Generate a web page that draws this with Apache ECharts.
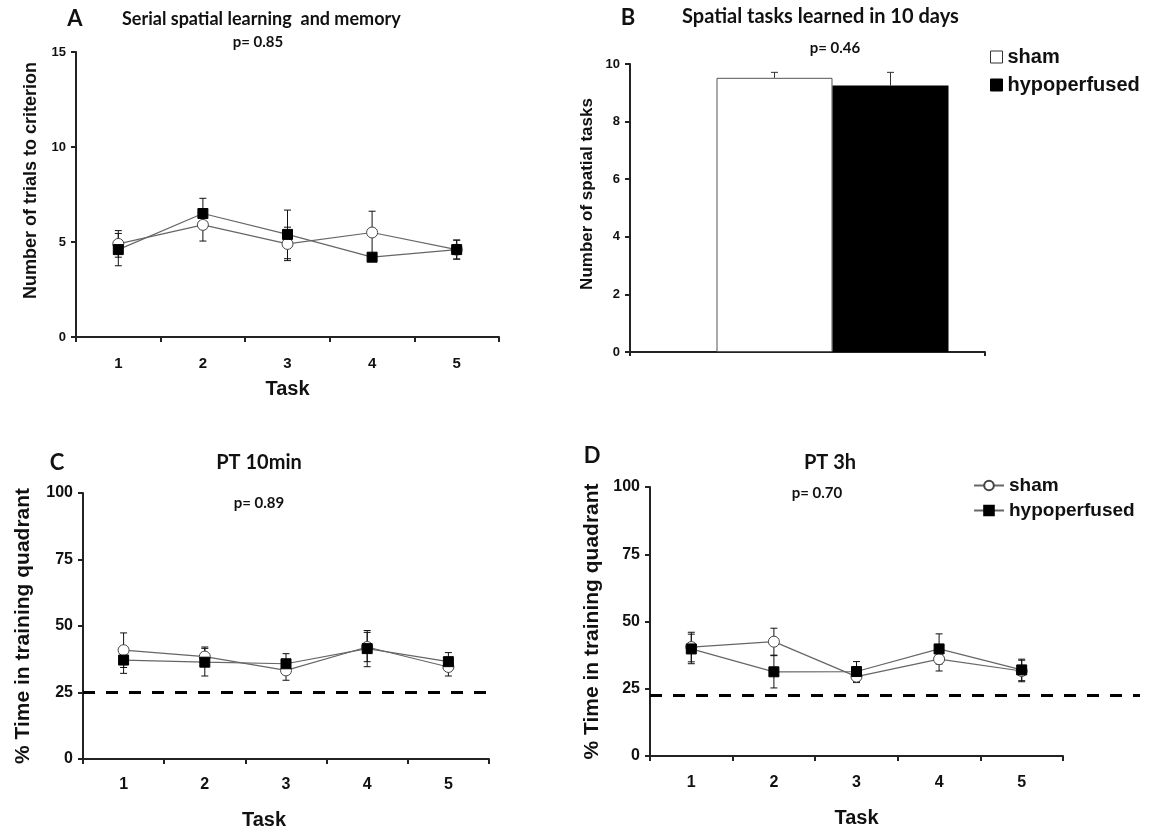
<!DOCTYPE html>
<html><head><meta charset="utf-8">
<script src="https://cdn.jsdelivr.net/npm/echarts@6/dist/echarts.min.js"></script>
<style>html,body{margin:0;padding:0;background:#fff}#c{width:1152px;height:831px}</style>
</head><body><div id="c"></div>
<script>
// ---- data ----
const tasks = ['1', '2', '3', '4', '5'];
const groups = ['sham', 'hypoperfused'];
// Panel A: number of trials to criterion
const trialsSham = [4.9, 5.9, 4.9, 5.5, 4.6];
const trialsShamErr = [0.7, 0.85, 0.88, 1.12, 0.5];
const trialsHypo = [4.6, 6.5, 5.4, 4.2, 4.6];
const trialsHypoErr = [0.85, 0.8, 1.28, 0.15, 0.5];
// Panel B: spatial tasks learned in 10 days
const learned = [9.52, 9.25];
const learnedErr = [0.19, 0.46];
// Panel C: PT 10min
const pt10Sham = [40.9, 38.5, 33.3, 42.1, 34.6];
const pt10ShamErr = [6.5, 3.6, 3.7, 5.5, 3.4];
const pt10Hypo = [37.2, 36.4, 35.8, 41.5, 36.6];
const pt10HypoErr = [5.0, 5.2, 3.8, 6.8, 3.4];
// Panel D: PT 3h
const pt3Sham = [40.5, 42.5, 29.5, 36.0, 31.6];
const pt3ShamErr = [5.5, 5.0, 2.2, 4.4, 4.0];
const pt3Hypo = [39.8, 31.3, 31.4, 39.8, 32.0];
const pt3HypoErr = [5.5, 6.0, 3.7, 5.6, 4.0];
const chanceC = 25;
const chanceD = 22.5;
const pValues = ['p= 0.85', 'p= 0.46', 'p= 0.89', 'p= 0.70'];

// ---- styles ----
const INK = '#111';
const AXIS_FONT = 'Liberation Sans, Arial, sans-serif';
const TITLE_FONT = 'Lato, Carlito, sans-serif';
const BW = 116, SPACER = 50;
const TOTAL = BW * 2 + SPACER;

const chart = echarts.init(document.getElementById('c'));

function errSeries(vals, errs, gi, z) {
  return {
    type: 'custom', xAxisIndex: gi, yAxisIndex: gi, z: z || 1, silent: true,
    encode: { x: 0, y: 1 },
    data: vals.map((v, i) => [i, v, errs[i]]),
    renderItem(params, api) {
      const x = api.value(0), y = api.value(1), e = api.value(2);
      const hi = api.coord([x, y + e]), lo = api.coord([x, y - e]);
      const w = 3.5, st = { stroke: INK, lineWidth: 1 };
      return { type: 'group', children: [
        { type: 'line', shape: { x1: hi[0], y1: hi[1], x2: lo[0], y2: lo[1] }, style: st },
        { type: 'line', shape: { x1: hi[0] - w, y1: hi[1], x2: hi[0] + w, y2: hi[1] }, style: st },
        { type: 'line', shape: { x1: lo[0] - w, y1: lo[1], x2: lo[0] + w, y2: lo[1] }, style: st }
      ]};
    }
  };
}
function lineSeries(name, vals, gi, extra) {
  const sham = name === 'sham';
  return Object.assign({
    name, type: 'line', xAxisIndex: gi, yAxisIndex: gi, z: sham ? 3 : 4,
    data: vals, symbol: sham ? 'circle' : 'rect', symbolSize: sham ? 11 : 10,
    lineStyle: { color: '#666', width: 1.2 },
    itemStyle: sham ? { color: '#fff', borderColor: '#444', borderWidth: 1 } : { color: '#000', borderColor: '#000', borderWidth: 1 },
    emphasis: { disabled: true }
  }, extra || {});
}
function dashLine(v) {
  return { silent: true, symbol: 'none', label: { show: false },
    lineStyle: { color: '#000', width: 3, type: [12, 11] }, data: [{ yAxis: v }] };
}
function catAxis(gi, margin, gap, pad) {
  return { type: 'category', gridIndex: gi, data: tasks, boundaryGap: true,
    name: 'Task', nameLocation: 'middle', nameGap: gap,
    nameTextStyle: { color: INK, fontFamily: AXIS_FONT, fontWeight: 'bold', fontSize: 20, padding: pad || 0 },
    axisLine: { lineStyle: { color: '#222', width: 2 } },
    axisTick: { show: true, length: 5, lineStyle: { color: '#222', width: 2 } },
    axisLabel: { color: INK, fontFamily: AXIS_FONT, fontWeight: 'bold', fontSize: gi === 0 ? 15 : 16, margin },
    splitLine: { show: false } };
}
function valAxis(gi, max, interval, name, gap, nameSize, labelSize, pad) {
  return { type: 'value', gridIndex: gi, min: 0, max, interval,
    name, nameLocation: 'middle', nameGap: gap, nameRotate: 90,
    nameTextStyle: { color: INK, fontFamily: AXIS_FONT, fontWeight: 'bold', fontSize: nameSize, padding: pad || 0 },
    axisLine: { show: true, lineStyle: { color: '#222', width: 2 } },
    axisTick: { show: true, length: 5, lineStyle: { color: '#222', width: 2 } },
    axisLabel: { color: INK, fontFamily: AXIS_FONT, fontWeight: 'bold', fontSize: labelSize, margin: 10 },
    splitLine: { show: false } };
}
function txt(text, x, y, size, align, font) {
  return { type: 'text', x, y, silent: true,
    style: { text, fill: INK, font: 'bold ' + size + 'px ' + (font || TITLE_FONT), textAlign: align || 'center', textVerticalAlign: 'middle' } };
}

const option = {
  animation: false,
  backgroundColor: '#fff',
  grid: [
    { left: 76, top: 52, width: 423, height: 285 },
    { left: 630, top: 64, width: 355, height: 288 },
    { left: 83, top: 493, width: 406, height: 267 },
    { left: 650, top: 487, width: 413, height: 269 },
    { left: 650, top: 487, width: 490, height: 269 }
  ],
  xAxis: [
    catAxis(0, 19, 42),
    { type: 'category', gridIndex: 1, data: [''], boundaryGap: true,
      axisLine: { lineStyle: { color: '#222', width: 2 } },
      axisTick: { show: true, length: 4, lineStyle: { color: '#222', width: 2 } },
      axisLabel: { show: false } },
    catAxis(2, 18, 51, [0, 44, 0, 0]),
    catAxis(3, 19, 52),
    { type: 'value', gridIndex: 4, min: 0, max: 1, show: false }
  ],
  yAxis: [
    valAxis(0, 15, 5, 'Number of trials to criterion', 36, 18, 13, [0, 0, 0, 28]),
    valAxis(1, 10, 2, 'Number of spatial tasks', 34, 17, 13, [0, 0, 0, 28]),
    valAxis(2, 100, 25, '% Time in training quadrant', 49, 21, 16),
    valAxis(3, 100, 25, '% Time in training quadrant', 47, 21, 16),
    { type: 'value', gridIndex: 4, min: 0, max: 100, show: false }
  ],
  legend: [
    { left: 985, top: 42, orient: 'vertical', itemGap: 8, itemWidth: 12, itemHeight: 12,
      selectedMode: false,
      textStyle: { color: INK, fontFamily: AXIS_FONT, fontWeight: 'bold', fontSize: 20 },
      data: [
        { name: 'sham', icon: 'rect', itemStyle: { color: '#fff', borderColor: '#333', borderWidth: 1 } },
        { name: 'hypoperfused', icon: 'rect', itemStyle: { color: '#000', borderColor: '#000', borderWidth: 1 } }
      ] },
    { left: 968, top: 471, orient: 'vertical', itemGap: 6, itemWidth: 30, itemHeight: 12,
      selectedMode: false,
      textStyle: { color: INK, fontFamily: AXIS_FONT, fontWeight: 'bold', fontSize: 19 },
      data: ['sham', 'hypoperfused'] }
  ],
  graphic: [
    txt('A', 75, 19, 22),
    txt('Serial spatial learning  and memory', 122, 19, 18, 'left'),
    txt(pValues[0], 258, 42, 15),
    txt('B', 628, 18, 22),
    txt('Spatial tasks learned in 10 days', 682, 17, 20, 'left'),
    txt(pValues[1], 835, 48, 15),
    txt('C', 57, 463, 22),
    txt('PT 10min', 259, 463, 20),
    txt(pValues[2], 259, 503, 15),
    txt('D', 592, 456, 22),
    txt('PT 3h', 830, 463, 20),
    txt(pValues[3], 817, 493, 15)
  ],
  series: [
    // Panel A
    lineSeries('sham', trialsSham, 0),
    lineSeries('hypoperfused', trialsHypo, 0),
    errSeries(trialsSham, trialsShamErr, 0),
    errSeries(trialsHypo, trialsHypoErr, 0),
    // Panel B
    { name: 'spacer', type: 'bar', xAxisIndex: 1, yAxisIndex: 1, barWidth: SPACER, barGap: 0,
      data: [0], itemStyle: { color: 'rgba(0,0,0,0)' }, silent: true },
    { name: 'sham', type: 'bar', xAxisIndex: 1, yAxisIndex: 1, barWidth: BW, barGap: 0,
      data: [learned[0]], itemStyle: { color: '#fff', borderColor: '#555', borderWidth: 1 }, emphasis: { disabled: true } },
    { name: 'hypoperfused', type: 'bar', xAxisIndex: 1, yAxisIndex: 1, barWidth: BW, barGap: 0,
      data: [learned[1]], itemStyle: { color: '#000' }, emphasis: { disabled: true } },
    { type: 'custom', xAxisIndex: 1, yAxisIndex: 1, z: 5, silent: true, encode: { x: 0, y: 1 },
      data: learned.map((v, i) => [0, v, learnedErr[i], i]),
      renderItem(params, api) {
        const v = api.value(1), e = api.value(2), idx = api.value(3);
        const b = api.coord([0, v]), t = api.coord([0, v + e]);
        const cx = b[0] - TOTAL / 2 + SPACER + BW / 2 + idx * BW;
        const st = { stroke: '#333', lineWidth: 1 };
        return { type: 'group', children: [
          { type: 'line', shape: { x1: cx, y1: b[1], x2: cx, y2: t[1] }, style: st },
          { type: 'line', shape: { x1: cx - 3.5, y1: t[1], x2: cx + 3.5, y2: t[1] }, style: st }
        ]};
      } },
    // Panel C
    lineSeries('sham', pt10Sham, 2),
    lineSeries('hypoperfused', pt10Hypo, 2, { markLine: dashLine(chanceC) }),
    errSeries(pt10Sham, pt10ShamErr, 2),
    errSeries(pt10Hypo, pt10HypoErr, 2),
    // Panel D
    lineSeries('sham', pt3Sham, 3),
    lineSeries('hypoperfused', pt3Hypo, 3),
    errSeries(pt3Sham, pt3ShamErr, 3),
    errSeries(pt3Hypo, pt3HypoErr, 3),
    { type: 'line', name: 'chance', xAxisIndex: 4, yAxisIndex: 4, data: [], silent: true,
      markLine: dashLine(chanceD) }
  ]
};
chart.setOption(option);
</script>
</body></html>
